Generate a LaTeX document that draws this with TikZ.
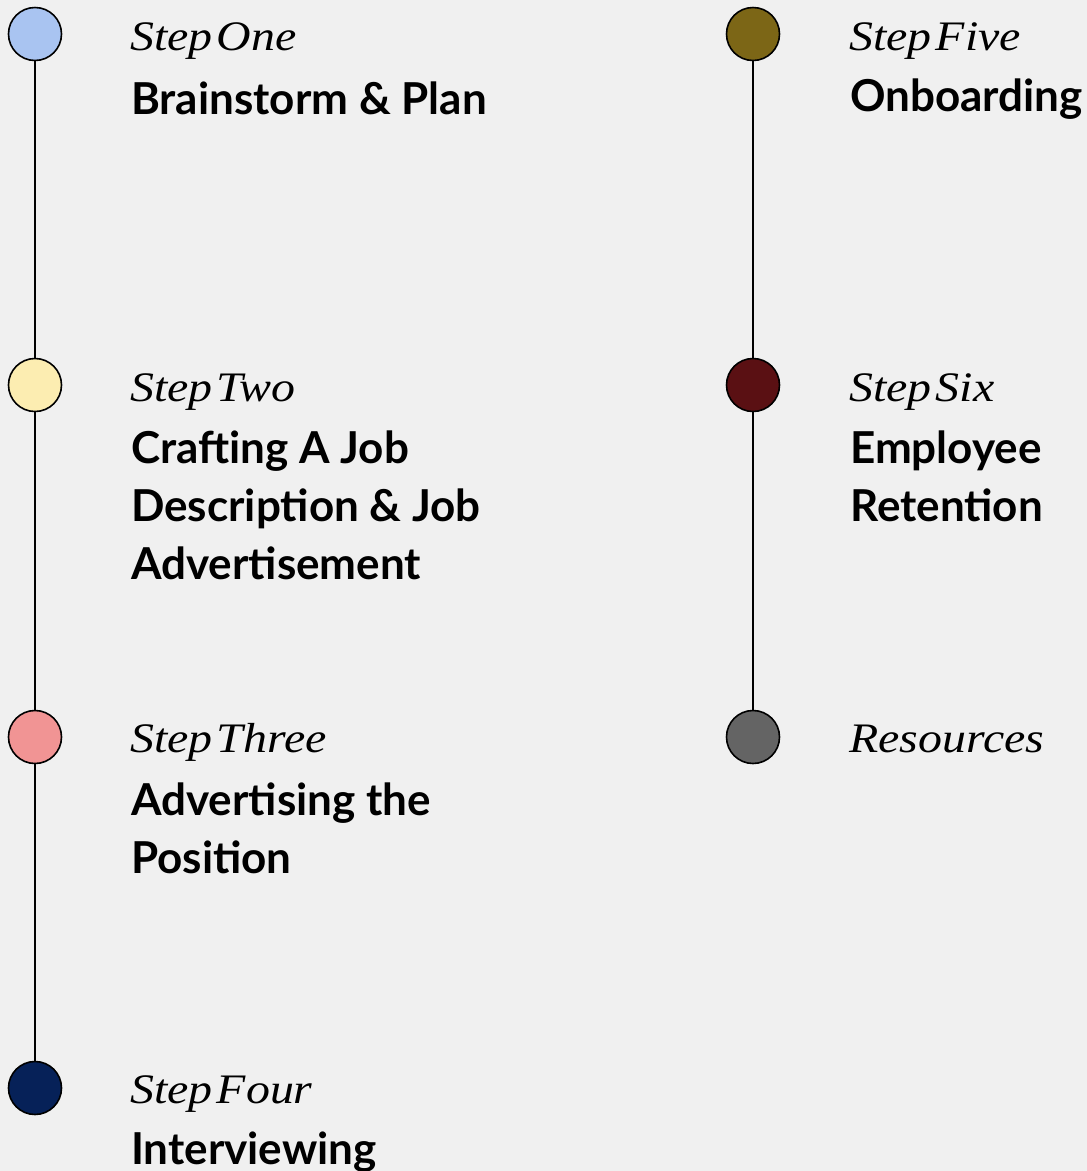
\documentclass[tikz,border=0pt]{standalone}
\usepackage{fontspec}
\setmainfont{Lato}
\newfontfamily\titlefont[FakeStretch=1.14,WordSpace=0.35]{Liberation Serif}
\usetikzlibrary{positioning}

\definecolor{pagebg}{HTML}{F0F0F0}
\definecolor{stepone}{HTML}{A9C4F1}
\definecolor{steptwo}{HTML}{FCEDB1}
\definecolor{stepthree}{HTML}{F19494}
\definecolor{stepfour}{HTML}{062158}
\definecolor{stepfive}{HTML}{7C6616}
\definecolor{stepsix}{HTML}{5A1013}
\definecolor{resources}{HTML}{646464}

\tikzset{
  dot/.style={circle, draw=black, line width=1.6pt, minimum size=53pt, inner sep=0pt},
  steptitle/.style={anchor=base west, inner sep=0pt,
    font=\titlefont\itshape\fontsize{42}{58}\selectfont},
  % base of a multi-line body sits on its last line
  stepbody/.style={anchor=base west, inner sep=0pt, align=left,
    font=\bfseries\fontsize{44}{58}\selectfont},
  stem/.style={line width=1.6pt}
}

\begin{document}
\begin{tikzpicture}[x=1pt,y=-1pt]
  \fill[pagebg] (0,0) rectangle (1087,1171);
  \useasboundingbox (0,0) rectangle (1087,1171);

  % left column
  \node[dot, fill=stepone]   (s1) at (35,34) {};
  \node[dot, fill=steptwo]   (s2) at (35,385) {};
  \node[dot, fill=stepthree] (s3) at (35,737) {};
  \node[dot, fill=stepfour]  (s4) at (35,1088) {};

  % right column
  \node[dot, fill=stepfive]  (s5) at (753,34) {};
  \node[dot, fill=stepsix]   (s6) at (753,385) {};
  \node[dot, fill=resources] (s7) at (753,737) {};

  \begin{scope}[stem]
    \draw (s1) -- (s2);
    \draw (s2) -- (s3);
    \draw (s3) -- (s4);
    \draw (s5) -- (s6);
    \draw (s6) -- (s7);
  \end{scope}

  \node[steptitle] (t1) at (130,50) {Step One};
  \node[stepbody]  (b1) at (131,114) {Brainstorm \& Plan};
  \node[steptitle] (t2) at (130,401) {Step Two};
  \node[stepbody]  (b2) at (131,579) {Crafting A Job\\Description \& Job\\Advertisement};
  \node[steptitle] (t3) at (130,752) {Step Three};
  \node[stepbody]  (b3) at (131,873) {Advertising the\\Position};
  \node[steptitle] (t4) at (130,1103) {Step Four};
  \node[stepbody]  (b4) at (131,1164) {Interviewing};

  \node[steptitle] (t5) at (849,50) {Step Five};
  \node[stepbody]  (b5) at (850,111) {Onboarding};
  \node[steptitle] (t6) at (849,401) {Step Six};
  \node[stepbody]  (b6) at (850,521) {Employee\\Retention};
  \node[steptitle] (t7) at (849,752) {Resources};
\end{tikzpicture}
\end{document}
